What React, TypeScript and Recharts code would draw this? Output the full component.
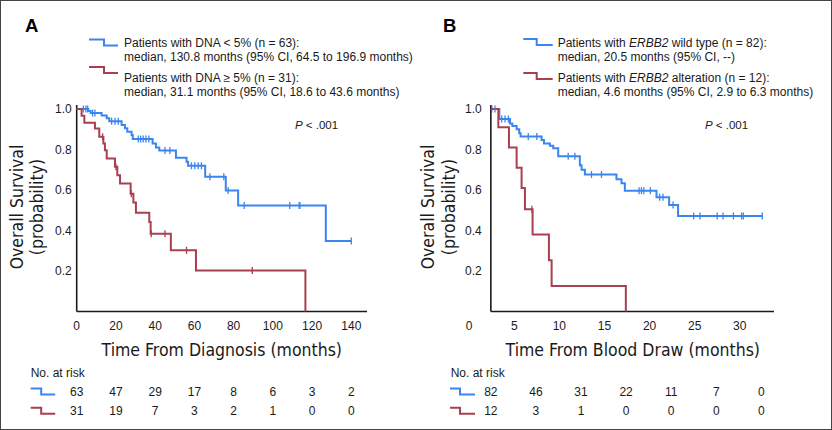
import React from "react";
import {
  ComposedChart,
  Line,
  Scatter,
  XAxis,
  YAxis,
  ReferenceLine,
} from "recharts";

const SANS = "'Liberation Sans', Arial, Helvetica, sans-serif";
const COND = "'DejaVu Sans Condensed', 'DejaVu Sans', sans-serif";
const BLUE = "#3a86f0";
const RED = "#a8404f";
const INK = "#1a1a1a";

// ---- Panel A: time from diagnosis ----
const aTicks = [0, 20, 40, 60, 80, 100, 120, 140];
const aBlueT = [0, 5.9, 7.1, 12.7, 15.3, 16.6, 22.9, 24.6, 25.8, 28, 28.6, 38.7, 40.4, 42.1, 50.6, 56, 56.8, 65.5, 76, 82.3, 127, 140];
const aBlueS = [1, 0.99, 0.98, 0.968, 0.954, 0.94, 0.921, 0.905, 0.888, 0.872, 0.852, 0.83, 0.81, 0.795, 0.76, 0.74, 0.72, 0.666, 0.598, 0.523, 0.348, 0.348];
const aBlueCens = [3.4, 4.7, 5.6, 8.1, 9.3, 17.8, 19.5, 21.2, 31.4, 32.6, 33.9, 35.3, 36.8, 45, 47.5, 58.5, 60.2, 61.9, 63.6, 67.9, 75, 77.2, 85.4, 108.6, 113.4, 113.8, 140];
const aRedT = [0, 2.5, 3.9, 9.3, 11.5, 13.6, 14.4, 15.3, 19.5, 20.7, 22.1, 27.5, 28.9, 30.2, 37, 37.7, 48, 60.8, 116.6];
const aRedS = [1, 0.967, 0.932, 0.904, 0.863, 0.83, 0.797, 0.756, 0.715, 0.673, 0.632, 0.582, 0.538, 0.488, 0.442, 0.384, 0.302, 0.203, 0];
const aRedCens = [13.2, 20, 27.8, 38, 45, 56, 89.5];
const aRiskAt = [0, 20, 40, 60, 80, 100, 120, 140];
const aRiskBlue = [63, 47, 29, 17, 8, 6, 3, 2];
const aRiskRed = [31, 19, 7, 3, 2, 1, 0, 0];

// ---- Panel B: time from blood draw ----
const bTicks = [0, 5, 10, 15, 20, 25, 30];
const bBlueT = [2.4, 3.34, 4.52, 4.78, 5.26, 5.55, 5.7, 8.03, 8.29, 8.95, 9.32, 9.87, 12.27, 12.46, 12.83, 16.33, 16.89, 17.26, 20.77, 22.17, 23.16, 32.58];
const bBlueS = [1, 0.951, 0.929, 0.916, 0.9, 0.88, 0.865, 0.847, 0.83, 0.819, 0.806, 0.767, 0.723, 0.7, 0.677, 0.653, 0.633, 0.597, 0.564, 0.526, 0.472, 0.472];
const bBlueCens = [2.86, 3.6, 3.97, 4.34, 6.55, 7.5, 10.98, 11.72, 13.56, 14.67, 18.84, 19.1, 19.36, 20.09, 21.12, 21.49, 22.6, 24.9, 25.6, 27.5, 28.15, 29.3, 30.2, 30.4, 32.5];
const bRedT = [2.4, 3.23, 4.41, 5.26, 5.81, 6.18, 7.03, 8.84, 9.14, 17.37];
const bRedS = [1, 0.91, 0.81, 0.71, 0.61, 0.505, 0.38, 0.253, 0.126, 0];
const bRedCens = [2.5, 6.95];
const bRiskAt = [2.4, 7.4, 12.4, 17.4, 22.4, 27.4, 32.4];
const bRiskBlue = [82, 46, 31, 22, 11, 7, 0];
const bRiskRed = [12, 3, 1, 0, 0, 0, 0];

const yTicks = [0.2, 0.4, 0.6, 0.8, 1.0];

const toSteps = (ts: number[], ss: number[]) => ts.map((t, i) => ({ t, s: ss[i] }));

const survAt = (ts: number[], ss: number[], t: number) => {
  let v = ss[0];
  ts.forEach((x, i) => {
    if (x <= t) v = ss[i];
  });
  return v;
};

const toCensor = (ts: number[], ss: number[], cs: number[]) =>
  cs.map((t) => ({ t, s: survAt(ts, ss, t) }));

const censorShape = (color: string) => (p: any) => (
  <line x1={p.cx} x2={p.cx} y1={p.cy - 3.5} y2={p.cy + 3.5} stroke={color} strokeWidth={1.3} />
);

const noShape = () => <g />;

const yTick = (shift: number) => (p: any) => (
  <text x={p.x + shift} y={p.y} dy="0.35em" textAnchor="end" fontSize={12} fontFamily={SANS} fill={INK}>
    {Number(p.payload.value).toFixed(1)}
  </text>
);

interface PanelProps {
  left: number;
  xMax: number;
  ticks: number[];
  riskAt: number[];
  riskBlue: number[];
  riskRed: number[];
  blueT: number[];
  blueS: number[];
  blueC: number[];
  redT: number[];
  redS: number[];
  redC: number[];
  marginLeft: number;
  marginRight: number;
  axisStart: number;
  yShift: number;
}

function KmPanel(props: PanelProps) {
  const {
    left, xMax, ticks, riskAt, riskBlue, riskRed,
    blueT, blueS, blueC, redT, redS, redC,
    marginLeft, marginRight, axisStart, yShift,
  } = props;
  const tickStyle = { fill: INK, fontSize: 12, fontFamily: SANS };
  const riskPts = riskAt.map((t) => ({ t, s: 0.5 }));
  return (
    <div style={{ position: "absolute", left, top: 0 }}>
      <ComposedChart
        width={416}
        height={430}
        margin={{ top: 105, right: marginRight, bottom: 10.5, left: marginLeft }}
      >
        <XAxis
          xAxisId="main"
          dataKey="t"
          type="number"
          domain={[0, xMax]}
          ticks={ticks}
          interval={0}
          height={70}
          axisLine={false}
          tickLine={false}
          tickSize={0}
          tickMargin={10}
          tick={tickStyle}
        />
        <XAxis
          xAxisId="r1"
          dataKey="t"
          type="number"
          domain={[0, xMax]}
          ticks={riskAt}
          interval={0}
          height={19}
          axisLine={false}
          tickLine={false}
          tickSize={0}
          tickMargin={6}
          tick={tickStyle}
          tickFormatter={(v: number, i: number) => String(riskBlue[i])}
        />
        <XAxis
          xAxisId="r2"
          dataKey="t"
          type="number"
          domain={[0, xMax]}
          ticks={riskAt}
          interval={0}
          height={19}
          axisLine={false}
          tickLine={false}
          tickSize={0}
          tickMargin={6}
          tick={tickStyle}
          tickFormatter={(v: number, i: number) => String(riskRed[i])}
        />
        <YAxis
          type="number"
          domain={[0, 1.02]}
          ticks={yTicks}
          width={40}
          axisLine={false}
          tickLine={false}
          tickSize={0}
          tickMargin={0}
          tick={yTick(yShift)}
        />
        <ReferenceLine
          xAxisId="main"
          segment={[{ x: axisStart, y: 0 }, { x: axisStart, y: 1.02 }]}
          stroke={INK}
          strokeWidth={1.6}
        />
        <ReferenceLine
          xAxisId="main"
          segment={[{ x: axisStart, y: 0 }, { x: xMax, y: 0 }]}
          stroke={INK}
          strokeWidth={1.6}
        />
        <Scatter xAxisId="r1" data={riskPts} dataKey="s" shape={noShape} isAnimationActive={false} />
        <Scatter xAxisId="r2" data={riskPts} dataKey="s" shape={noShape} isAnimationActive={false} />
        <Line
          xAxisId="main"
          data={toSteps(blueT, blueS)}
          dataKey="s"
          type="stepAfter"
          stroke={BLUE}
          strokeWidth={2}
          dot={false}
          activeDot={false}
          isAnimationActive={false}
        />
        <Line
          xAxisId="main"
          data={toSteps(redT, redS)}
          dataKey="s"
          type="stepAfter"
          stroke={RED}
          strokeWidth={2}
          dot={false}
          activeDot={false}
          isAnimationActive={false}
        />
        <Scatter
          xAxisId="main"
          data={toCensor(blueT, blueS, blueC)}
          dataKey="s"
          shape={censorShape(BLUE)}
          isAnimationActive={false}
        />
        <Scatter
          xAxisId="main"
          data={toCensor(redT, redS, redC)}
          dataKey="s"
          shape={censorShape(RED)}
          isAnimationActive={false}
        />
      </ComposedChart>
    </div>
  );
}

const StepIcon = ({ x, y, color, w1, w2 }: any) => (
  <polyline
    points={`${x},${y} ${x + w1},${y} ${x + w1},${y + 6} ${x + w1 + w2},${y + 6}`}
    fill="none"
    stroke={color}
    strokeWidth={2}
  />
);

export default function App() {
  const t12 = { fontSize: 12, fontFamily: SANS, fill: INK };
  const title = { fontSize: 17.5, fontFamily: COND, fill: INK, fontStretch: "condensed" as const };
  return (
    <div
      style={{
        position: "absolute",
        left: 0,
        top: 0,
        width: 832,
        height: 430,
        background: "#fff",
        boxShadow: "inset 0 0 0 1px #444",
      }}
    >
      <KmPanel
        left={0}
        xMax={148}
        ticks={aTicks}
        riskAt={aRiskAt}
        riskBlue={aRiskBlue}
        riskRed={aRiskRed}
        blueT={aBlueT}
        blueS={aBlueS}
        blueC={aBlueCens}
        redT={aRedT}
        redS={aRedS}
        redC={aRedCens}
        marginLeft={36.7}
        marginRight={49}
        axisStart={0}
        yShift={-5}
      />
      <KmPanel
        left={416}
        xMax={33.8}
        ticks={bTicks}
        riskAt={bRiskAt}
        riskBlue={bRiskBlue}
        riskRed={bRiskRed}
        blueT={bBlueT}
        blueS={bBlueS}
        blueC={bBlueCens}
        redT={bRedT}
        redS={bRedS}
        redC={bRedCens}
        marginLeft={13.2}
        marginRight={58}
        axisStart={2.4}
        yShift={12.5}
      />
      <svg
        width={832}
        height={430}
        style={{ position: "absolute", left: 0, top: 0, pointerEvents: "none" }}
      >
        {/* panel letters */}
        <text x={25} y={32} fontSize={18.5} fontWeight="bold" fontFamily={SANS} fill="#000">A</text>
        <text x={443} y={32} fontSize={18.5} fontWeight="bold" fontFamily={SANS} fill="#000">B</text>

        {/* legend A */}
        <StepIcon x={89} y={39.5} w1={15} w2={14} color={BLUE} />
        <text x={124} y={46.7} {...t12}>Patients with DNA &lt; 5% (n = 63):</text>
        <text x={124} y={60.7} {...t12}>median, 130.8 months (95% CI, 64.5 to 196.9 months)</text>
        <StepIcon x={89} y={67} w1={15} w2={14} color={RED} />
        <text x={124} y={81.7} {...t12}>Patients with DNA ≥ 5% (n = 31):</text>
        <text x={124} y={95.7} {...t12}>median, 31.1 months (95% CI, 18.6 to 43.6 months)</text>

        {/* legend B */}
        <StepIcon x={523.3} y={39} w1={13.4} w2={16} color={BLUE} />
        <text x={557.7} y={46.7} {...t12}>
          Patients with <tspan fontStyle="italic">ERBB2</tspan> wild type (n = 82):
        </text>
        <text x={557.7} y={60.7} {...t12}>median, 20.5 months (95% CI, --)</text>
        <StepIcon x={523.3} y={73} w1={13.4} w2={16} color={RED} />
        <text x={557.7} y={81.7} {...t12}>
          Patients with <tspan fontStyle="italic">ERBB2</tspan> alteration (n = 12):
        </text>
        <text x={557.7} y={95.7} {...t12}>median, 4.6 months (95% CI, 2.9 to 6.3 months)</text>

        {/* p values */}
        <text x={295} y={129.3} {...t12} fontSize={11.5}>
          <tspan fontStyle="italic">P</tspan> &lt; .001
        </text>
        <text x={705} y={129.3} {...t12} fontSize={11.5}>
          <tspan fontStyle="italic">P</tspan> &lt; .001
        </text>

        {/* axis titles */}
        <text x={221.8} y={355.5} textAnchor="middle" {...title}>Time From Diagnosis (months)</text>
        <text x={632.8} y={355.5} textAnchor="middle" {...title}>Time From Blood Draw (months)</text>
        <g {...title} textAnchor="middle">
          <text transform="translate(23,207) rotate(-90)">Overall Survival</text>
          <text transform="translate(43,207) rotate(-90)">(probability)</text>
          <text transform="translate(434,207) rotate(-90)">Overall Survival</text>
          <text transform="translate(455,207) rotate(-90)">(probability)</text>
        </g>

        {/* number at risk */}
        <text x={30.7} y={376.7} {...t12}>No. at risk</text>
        <StepIcon x={30.7} y={388.5} w1={10.5} w2={14} color={BLUE} />
        <StepIcon x={30.7} y={407.8} w1={10.5} w2={14} color={RED} />
        <text x={450.7} y={376.7} {...t12}>No. at risk</text>
        <StepIcon x={450} y={388.5} w1={10} w2={15} color={BLUE} />
        <StepIcon x={450} y={407.8} w1={10} w2={15} color={RED} />
      </svg>
    </div>
  );
}
